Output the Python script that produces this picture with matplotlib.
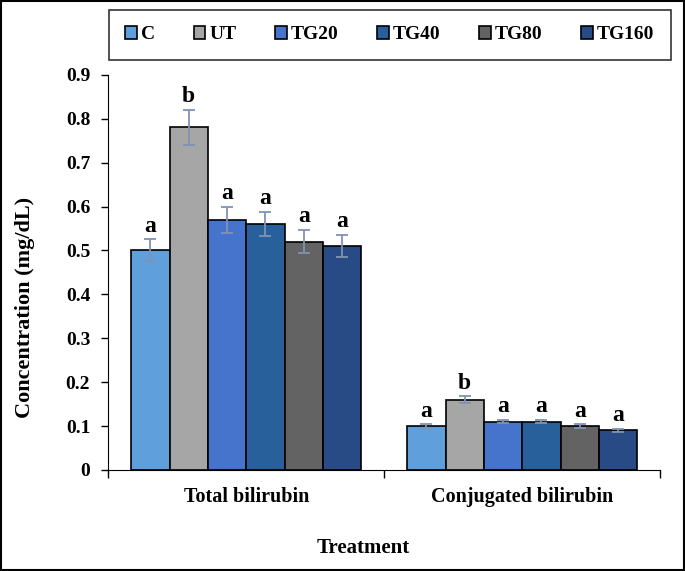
import numpy as np
import matplotlib.pyplot as plt
from matplotlib.patches import Rectangle

plt.rcParams['font.family'] = ['Liberation Serif', 'DejaVu Serif']
plt.rcParams['font.weight'] = 'bold'

# Datos
categorias = ['Total bilirubin', 'Conjugated bilirubin']
grupos = ['C', 'UT', 'TG20', 'TG40', 'TG80', 'TG160']
valores = {
    'C':     [0.50, 0.10],
    'UT':    [0.78, 0.16],
    'TG20':  [0.57, 0.11],
    'TG40':  [0.56, 0.11],
    'TG80':  [0.52, 0.10],
    'TG160': [0.51, 0.09],
}
errores = {
    'C':     [0.025, 0.004],
    'UT':    [0.040, 0.008],
    'TG20':  [0.030, 0.004],
    'TG40':  [0.028, 0.004],
    'TG80':  [0.027, 0.004],
    'TG160': [0.025, 0.003],
}
letras = {
    'C':     ['a', 'a'],
    'UT':    ['b', 'b'],
    'TG20':  ['a', 'a'],
    'TG40':  ['a', 'a'],
    'TG80':  ['a', 'a'],
    'TG160': ['a', 'a'],
}
colores = ['#5f9fdc', '#a6a6a6', '#4674cc', '#27609a', '#636363', '#284a85']

fig = plt.figure(figsize=(6.85, 5.71), dpi=100)
ax = fig.add_axes([0.158, 0.177, 0.806, 0.692])

x = np.arange(len(categorias))
ancho = 0.139
for i, g in enumerate(grupos):
    pos = x + (i - 2.5) * ancho
    ax.bar(pos, valores[g], ancho, color=colores[i], edgecolor='black',
           linewidth=1.2, label=g, zorder=2)
    ax.errorbar(pos, valores[g], yerr=errores[g], fmt='none',
                ecolor='#7f93b3', elinewidth=1.3, capsize=4, capthick=1.3, zorder=3)
    for p, v, e, l in zip(pos, valores[g], errores[g], letras[g]):
        ax.text(p, v + e + 0.006, l, ha='center', va='bottom',
                fontsize=17, fontweight='bold')

ax.set_xlim(-0.5, 1.5)
ax.set_ylim(0, 0.9)
ax.set_yticks(np.arange(0, 0.91, 0.1))
ax.set_yticklabels(['0'] + ['%.1f' % v for v in np.arange(0.1, 0.91, 0.1)])
ax.set_xticks(x)
ax.set_xticklabels(categorias, fontsize=14.5, fontweight='bold')
ax.tick_params(axis='x', length=0, pad=12)
ax.set_xticks([-0.5, 0.5, 1.5], minor=True)
ax.tick_params(axis='x', which='minor', length=6, direction='out', width=1)
ax.tick_params(axis='y', labelsize=14, length=5, direction='out', width=1, pad=8)
for lab in ax.get_yticklabels():
    lab.set_fontweight('bold')
ax.spines['top'].set_visible(False)
ax.spines['right'].set_visible(False)
ax.set_ylabel('Concentration (mg/dL)', fontsize=16, fontweight='bold')
ax.yaxis.set_label_coords(-0.133, 0.41)
ax.set_xlabel('Treatment', fontsize=15, fontweight='bold')
ax.xaxis.set_label_coords(0.462, -0.172)

leg = fig.legend(loc='center', bbox_to_anchor=(0.569, 0.939), ncol=6,
                 fontsize=14, frameon=True, fancybox=False, edgecolor='black',
                 handlelength=0.6, handleheight=0.6, handletextpad=0.2,
                 columnspacing=2.0, borderpad=0.85)
leg.get_frame().set_linewidth(1.2)
for t in leg.get_texts():
    t.set_fontweight('bold')

# Borde exterior
fig.patches.append(Rectangle((0.002, 0.002), 0.996, 0.996, transform=fig.transFigure,
                             fill=False, edgecolor='black', linewidth=1.5))

fig.savefig('out.png', dpi=100)
